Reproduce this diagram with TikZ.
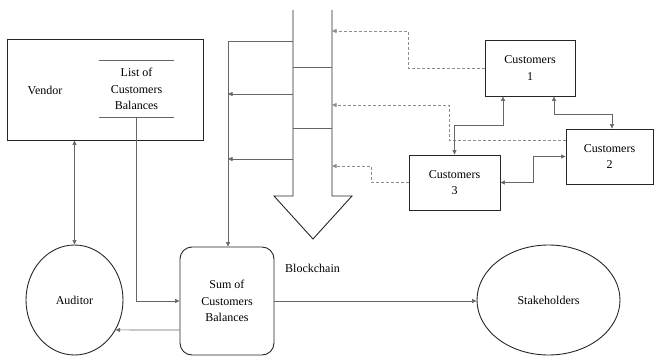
\documentclass[tikz,border=0pt]{standalone}
\usepackage{fontspec}
\setmainfont{Liberation Serif}
\usetikzlibrary{arrows.meta,shapes.geometric}
\begin{document}
\begin{tikzpicture}[x=1pt,y=-1pt,
  font=\fontsize{12pt}{16.5pt}\selectfont,
  box/.style={draw=black!85,line width=0.9pt,align=center,inner sep=0pt},
  oval/.style={ellipse,draw=black!85,line width=0.9pt,align=center,inner sep=0pt},
  conn/.style={draw=black!60,line width=0.6pt,-{Triangle[length=4.5pt,width=4pt]}},
  biconn/.style={draw=black!60,line width=0.6pt,{Triangle[length=4.5pt,width=4pt]}-{Triangle[length=4.5pt,width=4pt]}},
  dconn/.style={draw=black!45,line width=0.6pt,dash pattern=on 3pt off 2pt,-{Triangle[length=4.5pt,width=4pt]}},
  plain/.style={draw=black!60,line width=0.6pt}]
\useasboundingbox (0,0) rectangle (654,356);

% nodes
\node[box,minimum width=196pt,minimum height=101pt] (vendor) at (105,89.5) {};
\node[align=center] (vlabel) at (45,90) {Vendor};
\node[align=center,minimum width=75pt,minimum height=56pt,inner sep=0pt] (list) at (136.5,89) {List of\\Customers\\Balances};
\node[oval,minimum width=97pt,minimum height=110pt] (auditor) at (74.5,300) {Auditor};
\node[box,rounded corners=12pt,minimum width=94pt,minimum height=108pt] (sum) at (227,301) {Sum of\\Customers\\Balances};
\node[oval,minimum width=143pt,minimum height=110pt] (stake) at (548.5,300) {Stakeholders};
\node[box,minimum width=90pt,minimum height=56pt] (c1) at (530,68) {Customers\\1};
\node[box,minimum width=87pt,minimum height=55pt] (c2) at (609.5,156.5) {Customers\\2};
\node[box,minimum width=91pt,minimum height=55pt] (c3) at (454.5,182.5) {Customers\\3};
\node[anchor=west,inner sep=0pt] (bc) at (285,268) {Blockchain};

% list lines
\draw[black!60,line width=0.8pt] (list.north west) -- (list.north east);
\draw[black!60,line width=0.8pt] (list.south west) -- (list.south east);

% blockchain arrow
\draw[black!85,line width=0.9pt,line join=miter] (293,10) -- (293,196) -- (274,196) -- (313,239) -- (352,196) -- (332,196) -- (332,10);
\draw[black!60,line width=0.8pt] (293,67) -- (332,67);
\draw[black!60,line width=0.8pt] (293,128) -- (332,128);

% shaft coordinates
\coordinate (sl1) at (293,41);
\coordinate (sl2) at (293,94);
\coordinate (sl3) at (293,159);
\coordinate (tl2) at (228,94);
\coordinate (tl3) at (228,159);
\coordinate (sr1) at (332,31);
\coordinate (sr2) at (332,105);
\coordinate (sr3) at (332,166);

% left connectors
\draw[conn] (sl1) -| ([xshift=1pt]sum.north);
\draw[conn] (sl2) -- (tl2);
\draw[conn] (sl3) -- (tl3);

% dashed connectors
\draw[dconn] (c1.west) -- (408,68) |- (sr1);
\draw[dconn] ([yshift=16.5pt]c2.west) -- (449,140) |- (sr2);
\draw[dconn] (c3.west) -- (371,182.5) |- (sr3);

% customer links
\draw[biconn] ([xshift=-27pt]c1.south) -- ++(0,29) -| (c3.north);
\draw[biconn] ([xshift=24pt]c1.south) -- ++(0,18) -| ([xshift=2.5pt]c2.north);
\draw[biconn] (c3.east) -- (533,182.5) |- (c2.west);

% vendor / auditor / sum
\draw[biconn] (auditor.north) -- (auditor.north |- vendor.south);
\draw[conn] (list.south) |- (sum.west);
\draw[conn] ([yshift=-29pt]sum.west) -- (auditor.-36.4);
\draw[conn] (sum.east) -- (sum.east -| stake.west);
\end{tikzpicture}
\end{document}
